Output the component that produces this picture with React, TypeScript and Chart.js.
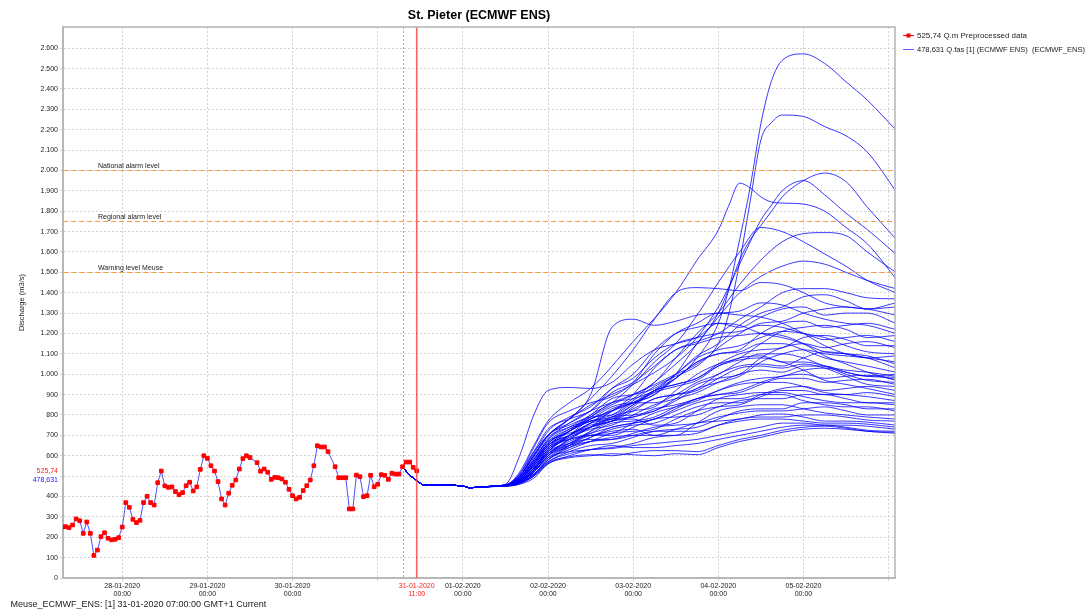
import React, { useEffect, useRef } from 'react';
import { Chart, registerables } from 'chart.js';

Chart.register(...registerables);

// ---------- DATA ----------
const titleText = 'St. Pieter (ECMWF ENS)';
const yAxisTitle = 'Discharge (m3/s)';
const footerText = 'Meuse_ECMWF_ENS: [1] 31-01-2020 07:00:00 GMT+1 Current';
const legendObs = '525,74 Q.m Preprocessed data';
const legendFc = '478,631 Q.fas [1] (ECMWF ENS)  (ECMWF_ENS)';

// hours relative to 28-01-2020 00:00
const xMin = -16.7;
const xMax = 217.8;
const forecastTimeHour = 79; // 31-01-2020 07:00
const currentTimeHour = 83; // 31-01-2020 11:00

const xTickHours = [0, 24, 48, 72, 83, 96, 120, 144, 168, 192, 216];
const xTickDates = ['28-01-2020', '29-01-2020', '30-01-2020', '', '31-01-2020', '01-02-2020', '02-02-2020', '03-02-2020', '04-02-2020', '05-02-2020', ''];
const xTickTimes = ['00:00', '00:00', '00:00', '', '11:00', '00:00', '00:00', '00:00', '00:00', '00:00', ''];

const yTicks = [0, 100, 200, 300, 400, 500, 600, 700, 800, 900, 1000, 1100, 1200, 1300, 1400, 1500, 1600, 1700, 1800, 1900, 2000, 2100, 2200, 2300, 2400, 2500, 2600];
const yHiddenTick = 500;

const thresholdValues = [2000, 1750, 1500];
const thresholdLabels = ['National alarm level', 'Regional alarm level', 'Warning level Meuse'];

const obsCurrentValue = 525.74;
const fcCurrentValue = 478.631;
const obsCurrentLabel = '525,74';
const fcCurrentLabel = '478,631';

// observed, hourly from h=-17 to h=83 (null = missing)
const obsStartHour = -17;
const obsValues: (number | null)[] = [
  250, 252, 247, 260, 290, 281, 219, 275, 219, 111, 137, 203, 222, 195, 187, 190, 198,
  250, 370, 347, 288, 272, 283, 370, 401, 370, 358, 468, 525, 452, 445, 447, 424, 409, 419, 453, 470, 427, 447, 533, 600,
  587, 551, 525, 473, 388, 358, 416, 455, 481, 535, 586, 600, 591, null, 566, 524, 535, 519, 484, 494, 492, 486, 470, 435,
  404, 388, 396, 429, 453, 481, 551, 649, 643, 643, 620, null, 546, 492, 492, 492, 339, 339, 505, 497, 399, 404, 504, 448,
  460, 507, 504, 484, 514, 510, 510, 546, 569, 569, 543, 526,
];

// common start of all ensemble members
const fcBaseHours = [79, 81, 83, 85, 88, 92, 96, 98, 102];
const fcBaseValues = [546, 505, 479, 456, 455, 455, 451, 443, 448];

// regular members grid
const memberHours = [108, 112, 116, 120, 126, 132, 138, 144, 150, 156, 162, 168, 174, 180, 186, 192, 198, 204, 210, 218];
const members: number[][] = [
  [455, 490, 570, 660, 730, 790, 850, 900, 960, 1080, 1200, 1300, 1440, 1560, 1650, 1690, 1695, 1680, 1600, 1500],
  [455, 480, 550, 640, 720, 800, 860, 950, 1060, 1150, 1290, 1450, 1600, 1720, 1700, 1650, 1590, 1530, 1460, 1400],
  [455, 470, 520, 600, 680, 740, 820, 860, 900, 1000, 1150, 1280, 1400, 1480, 1530, 1555, 1540, 1500, 1460, 1420],
  [455, 500, 600, 700, 780, 880, 990, 1120, 1270, 1400, 1425, 1420, 1410, 1450, 1440, 1400, 1350, 1330, 1320, 1290],
  [455, 510, 620, 700, 780, 900, 1230, 1270, 1240, 1260, 1290, 1300, 1310, 1350, 1340, 1300, 1270, 1250, 1240, 1200],
  [460, 600, 800, 920, 935, 930, 960, 1050, 1120, 1150, 1180, 1250, 1240, 1200, 1180, 1150, 1110, 1100, 1090, 1050],
  [452, 470, 540, 620, 700, 780, 820, 900, 1030, 1120, 1160, 1200, 1270, 1330, 1400, 1420, 1420, 1400, 1375, 1370],
  [455, 480, 560, 650, 720, 790, 860, 880, 920, 1000, 1090, 1150, 1240, 1300, 1330, 1380, 1390, 1360, 1320, 1330],
  [458, 500, 600, 700, 760, 820, 930, 1000, 1120, 1200, 1230, 1250, 1230, 1280, 1320, 1330, 1290, 1300, 1300, 1250],
  [455, 470, 530, 610, 680, 740, 770, 840, 920, 980, 1060, 1100, 1120, 1200, 1250, 1260, 1230, 1240, 1250, 1220],
  [450, 465, 510, 580, 650, 720, 790, 820, 840, 920, 1000, 1050, 1080, 1150, 1210, 1230, 1240, 1220, 1180, 1190],
  [455, 490, 580, 680, 740, 800, 880, 900, 930, 1000, 1080, 1120, 1140, 1180, 1210, 1200, 1170, 1180, 1190, 1160],
  [455, 475, 540, 630, 700, 760, 780, 850, 920, 950, 980, 1050, 1100, 1120, 1130, 1180, 1190, 1170, 1140, 1140],
  [452, 470, 520, 600, 660, 720, 770, 790, 820, 880, 950, 980, 1000, 1080, 1130, 1150, 1130, 1150, 1160, 1130],
  [455, 500, 610, 720, 790, 840, 930, 980, 1080, 1150, 1180, 1200, 1210, 1240, 1230, 1200, 1180, 1140, 1110, 1100],
  [455, 480, 560, 650, 700, 750, 770, 820, 880, 900, 930, 1000, 1040, 1050, 1040, 1080, 1110, 1100, 1080, 1090],
  [455, 470, 530, 620, 690, 740, 790, 800, 820, 870, 930, 960, 990, 1060, 1100, 1120, 1100, 1090, 1080, 1060],
  [458, 510, 640, 760, 820, 860, 890, 960, 1100, 1200, 1250, 1300, 1290, 1280, 1250, 1200, 1140, 1100, 1080, 1030],
  [455, 480, 550, 640, 700, 760, 830, 860, 900, 980, 1060, 1100, 1110, 1150, 1150, 1120, 1080, 1060, 1040, 1010],
  [455, 470, 520, 590, 650, 700, 710, 760, 810, 840, 870, 920, 960, 980, 990, 1020, 1030, 1010, 990, 1000],
  [455, 490, 590, 690, 740, 780, 840, 860, 860, 900, 960, 1000, 1060, 1100, 1100, 1080, 1040, 1020, 1010, 990],
  [455, 475, 540, 630, 690, 730, 750, 800, 850, 880, 910, 960, 1000, 1020, 1010, 1040, 1040, 1010, 990, 985],
  [452, 465, 510, 580, 640, 690, 740, 760, 780, 830, 880, 900, 920, 960, 990, 1000, 980, 990, 995, 975],
  [455, 500, 620, 730, 780, 820, 910, 960, 1040, 1120, 1150, 1180, 1190, 1200, 1190, 1150, 1090, 1050, 1010, 970],
  [455, 480, 560, 660, 720, 770, 790, 850, 910, 940, 970, 1040, 1080, 1090, 1060, 1060, 1040, 1000, 970, 960],
  [455, 470, 530, 610, 670, 710, 760, 770, 790, 840, 880, 900, 910, 950, 980, 980, 960, 970, 975, 950],
  [455, 485, 570, 670, 730, 770, 780, 830, 880, 900, 920, 980, 1030, 1040, 1030, 1050, 1030, 990, 950, 940],
  [455, 470, 520, 600, 650, 690, 730, 750, 760, 800, 840, 860, 860, 900, 930, 940, 920, 930, 940, 920],
  [455, 495, 600, 700, 750, 790, 800, 860, 920, 950, 980, 1040, 1070, 1080, 1060, 1020, 970, 950, 930, 900],
  [452, 465, 510, 580, 630, 670, 710, 720, 730, 780, 820, 840, 850, 890, 920, 920, 900, 900, 910, 890],
  [455, 480, 560, 650, 700, 740, 780, 790, 830, 850, 880, 920, 950, 960, 960, 940, 910, 900, 890, 870],
  [455, 470, 530, 610, 660, 700, 700, 740, 780, 790, 800, 840, 870, 880, 880, 900, 900, 880, 860, 860],
  [455, 490, 580, 670, 710, 740, 770, 780, 750, 760, 820, 880, 900, 910, 910, 890, 870, 860, 860, 850],
  [452, 465, 505, 570, 620, 650, 660, 690, 720, 730, 740, 780, 820, 830, 830, 860, 860, 850, 830, 830],
  [455, 475, 540, 630, 680, 710, 740, 760, 780, 820, 860, 880, 880, 900, 900, 870, 850, 840, 840, 820],
  [455, 470, 520, 600, 640, 670, 680, 710, 740, 750, 760, 790, 810, 820, 820, 830, 840, 820, 800, 800],
  [455, 480, 550, 640, 680, 700, 720, 730, 700, 700, 760, 820, 840, 850, 850, 830, 810, 800, 790, 780],
  [452, 465, 500, 560, 600, 630, 640, 660, 690, 700, 710, 750, 780, 790, 790, 800, 800, 790, 775, 770],
  [455, 470, 530, 610, 650, 670, 690, 700, 700, 730, 760, 770, 780, 800, 805, 790, 770, 770, 765, 750],
  [455, 475, 540, 620, 660, 680, 680, 700, 720, 720, 720, 750, 770, 780, 780, 770, 760, 760, 755, 740],
  [452, 465, 505, 570, 610, 630, 635, 650, 660, 670, 680, 700, 720, 740, 760, 760, 750, 750, 745, 730],
  [455, 470, 520, 590, 620, 630, 650, 640, 640, 650, 660, 680, 700, 720, 740, 750, 750, 740, 725, 720],
  [452, 462, 500, 565, 595, 605, 600, 615, 625, 625, 620, 650, 680, 700, 725, 740, 745, 735, 720, 715],
  [450, 460, 490, 560, 590, 600, 610, 605, 600, 610, 605, 640, 670, 690, 715, 730, 735, 730, 720, 710],
  [455, 485, 570, 660, 720, 770, 800, 870, 940, 990, 1040, 1130, 1200, 1250, 1260, 1300, 1320, 1330, 1320, 1350],
];

// high members on a finer grid
const peakHours = [108, 112, 116, 120, 126, 132, 144, 156, 162, 168, 171, 174, 177, 180, 183, 186, 192, 198, 204, 210, 218];
const peakMembers: number[][] = [
  [455, 480, 560, 650, 720, 780, 860, 980, 1080, 1250, 1420, 1660, 1920, 2230, 2440, 2540, 2572, 2525, 2435, 2345, 2200],
  [455, 490, 580, 680, 760, 820, 900, 1000, 1050, 1150, 1300, 1550, 1850, 2150, 2235, 2272, 2265, 2215, 2170, 2090, 1900],
  [455, 520, 650, 770, 860, 930, 1160, 1400, 1560, 1707, 1830, 1938, 1914, 1870, 1845, 1840, 1835, 1800, 1720, 1640, 1470],
  [455, 470, 530, 620, 700, 760, 880, 1050, 1150, 1300, 1420, 1560, 1660, 1730, 1800, 1870, 1950, 1987, 1945, 1820, 1665],
  [455, 500, 600, 700, 780, 850, 950, 1080, 1180, 1330, 1430, 1540, 1650, 1757, 1830, 1900, 1950, 1880, 1790, 1710, 1590],
];

// ---------- STYLE ----------
const FONT = '"Liberation Sans", Arial, sans-serif';
const BLUE = 'rgba(0,0,255,0.78)';
const RED = '#ff0000';
const GRID = '#d2d2d2';
const ORANGE = '#ff9933';

function fmtThousands(v: number): string {
  if (v >= 1000) {
    const th = Math.floor(v / 1000);
    const rest = String(v % 1000).padStart(3, '0');
    return th + '.' + rest;
  }
  return String(v);
}

function buildDatasets() {
  const obsData: { x: number; y: number }[] = [];
  obsValues.forEach((v, i) => {
    if (v !== null) obsData.push({ x: obsStartHour + i, y: v });
  });
  const base = fcBaseHours.map((h, i) => ({ x: h, y: fcBaseValues[i] }));
  const ds: any[] = [];
  ds.push({
    label: legendObs,
    data: obsData,
    borderColor: RED,
    borderWidth: 1,
    pointStyle: 'rect',
    pointRadius: 2.6,
    pointBorderWidth: 1,
    pointBackgroundColor: RED,
    pointBorderColor: RED,
    tension: 0,
    segment: {
      borderColor: (c: any) => (c.p1.parsed.x <= forecastTimeHour ? 'rgba(60,60,255,0.9)' : RED),
    },
  });
  const addMember = (hours: number[], vals: number[]) => {
    ds.push({
      label: 'member',
      data: base.concat(hours.map((h, i) => ({ x: h, y: vals[i] }))),
      borderColor: BLUE,
      borderWidth: 1,
      pointRadius: 0,
      cubicInterpolationMode: 'monotone',
    });
  };
  peakMembers.forEach((m) => addMember(peakHours, m));
  members.forEach((m) => addMember(memberHours, m));
  return ds;
}

const overlayPlugin = {
  id: 'overlay',
  beforeDatasetsDraw(chart: any) {
    const { ctx, chartArea: a, scales } = chart;
    const x = scales.x;
    ctx.save();
    const px = Math.round(x.getPixelForValue(forecastTimeHour)) + 0.5;
    ctx.strokeStyle = '#a8a8a8';
    ctx.lineWidth = 1;
    ctx.setLineDash([2, 2]);
    ctx.beginPath();
    ctx.moveTo(px, a.top);
    ctx.lineTo(px, a.bottom);
    ctx.stroke();
    ctx.restore();
  },
  afterDatasetsDraw(chart: any) {
    const { ctx, chartArea: a, scales } = chart;
    const x = scales.x;
    const y = scales.y;
    ctx.save();
    ctx.beginPath();
    ctx.rect(a.left, a.top, a.right - a.left, a.bottom - a.top);
    ctx.clip();
    thresholdValues.forEach((v, i) => {
      const py = Math.round(y.getPixelForValue(v)) + 0.5;
      ctx.strokeStyle = ORANGE;
      ctx.lineWidth = 1;
      ctx.setLineDash([5, 3]);
      ctx.beginPath();
      ctx.moveTo(a.left, py);
      ctx.lineTo(a.right, py);
      ctx.stroke();
      ctx.setLineDash([]);
      ctx.fillStyle = '#222';
      ctx.font = '7px ' + FONT;
      ctx.textAlign = 'left';
      ctx.textBaseline = 'bottom';
      ctx.fillText(thresholdLabels[i], 98, py - 1);
    });
    const rx = x.getPixelForValue(currentTimeHour);
    ctx.strokeStyle = 'rgba(255,70,70,0.85)';
    ctx.lineWidth = 1.6;
    ctx.setLineDash([]);
    ctx.beginPath();
    ctx.moveTo(rx, a.top);
    ctx.lineTo(rx, a.bottom);
    ctx.stroke();
    ctx.restore();
  },
  afterDraw(chart: any) {
    const { ctx, chartArea: a, scales } = chart;
    const y = scales.y;
    ctx.save();
    // frame top/right
    ctx.strokeStyle = '#b4b4b4';
    ctx.lineWidth = 1.5;
    ctx.beginPath();
    ctx.moveTo(a.left, a.top);
    ctx.lineTo(a.right, a.top);
    ctx.lineTo(a.right, a.bottom);
    ctx.stroke();
    // title
    ctx.fillStyle = '#000';
    ctx.font = 'bold 12.5px ' + FONT;
    ctx.textAlign = 'center';
    ctx.textBaseline = 'middle';
    ctx.fillText(titleText, (a.left + a.right) / 2, 16);
    // legend
    ctx.lineWidth = 1;
    ctx.strokeStyle = RED;
    ctx.beginPath();
    ctx.moveTo(903, 35.5);
    ctx.lineTo(914, 35.5);
    ctx.stroke();
    ctx.fillStyle = RED;
    ctx.fillRect(906.5, 33.5, 4, 4);
    ctx.strokeStyle = 'rgba(90,90,255,1)';
    ctx.beginPath();
    ctx.moveTo(903, 49.5);
    ctx.lineTo(914, 49.5);
    ctx.stroke();
    ctx.fillStyle = '#222';
    ctx.font = '8px ' + FONT;
    ctx.textAlign = 'left';
    ctx.textBaseline = 'middle';
    ctx.fillText(legendObs, 917, 36, 110);
    ctx.fillText(legendFc, 917, 49.5, 168);
    // footer
    ctx.font = '9px ' + FONT;
    ctx.fillStyle = '#222';
    ctx.fillText(footerText, 10.5, 604.5);
    // current value labels
    ctx.font = '7px ' + FONT;
    ctx.textAlign = 'right';
    ctx.fillStyle = '#ff2020';
    ctx.fillText(obsCurrentLabel, 58, y.getPixelForValue(obsCurrentValue));
    ctx.fillStyle = '#2020ff';
    ctx.fillText(fcCurrentLabel, 58, y.getPixelForValue(fcCurrentValue));
    // y axis title
    ctx.translate(22, (a.top + a.bottom) / 2);
    ctx.rotate(-Math.PI / 2);
    ctx.textAlign = 'center';
    ctx.fillStyle = '#222';
    ctx.font = '7.5px ' + FONT;
    ctx.fillText(yAxisTitle, 0, 0);
    ctx.restore();
  },
};

export default function App() {
  const ref = useRef<HTMLCanvasElement | null>(null);
  useEffect(() => {
    if (!ref.current) return;
    const chart = new Chart(ref.current, {
      type: 'line',
      data: { datasets: buildDatasets() },
      options: {
        animation: false,
        responsive: false,
        devicePixelRatio: 1,
        events: [],
        layout: { padding: { left: 0, right: 194, top: 27, bottom: 0 } },
        plugins: { legend: { display: false }, title: { display: false }, tooltip: { enabled: false } },
        scales: {
          x: {
            type: 'linear',
            min: xMin,
            max: xMax,
            afterFit: (s: any) => {
              s.height = 36;
            },
            afterBuildTicks: (s: any) => {
              s.ticks = xTickHours.map((h) => ({ value: h }));
            },
            grid: {
              color: (c: any) => (c.tick && c.tick.value === currentTimeHour ? 'rgba(0,0,0,0)' : GRID),
              tickLength: 3,
              lineWidth: 1,
            },
            border: { display: true, color: '#b8b8b8', width: 2, dash: [2, 2] },
            ticks: {
              autoSkip: false,
              maxRotation: 0,
              padding: 1,
              font: { family: FONT, size: 7, lineHeight: 1.15 },
              color: (c: any) => (c.tick && c.tick.value === currentTimeHour ? '#ff2020' : '#222'),
              callback: (v: any) => {
                const i = xTickHours.indexOf(Number(v));
                if (i < 0 || !xTickDates[i]) return '';
                return [xTickDates[i], xTickTimes[i]];
              },
            },
          },
          y: {
            type: 'linear',
            min: 0,
            max: 2704,
            afterFit: (s: any) => {
              s.width = 63;
            },
            afterBuildTicks: (s: any) => {
              s.ticks = yTicks.map((v) => ({ value: v }));
            },
            grid: { color: GRID, tickLength: 3, lineWidth: 1 },
            border: { display: true, color: '#b8b8b8', width: 2, dash: [2, 2] },
            ticks: {
              padding: 2,
              font: { family: FONT, size: 7 },
              color: '#222',
              callback: (v: any) => (Number(v) === yHiddenTick ? '' : fmtThousands(Number(v))),
            },
          },
        },
      },
      plugins: [overlayPlugin],
    } as any);
    return () => chart.destroy();
  }, []);
  return (
    <div style={{ position: 'absolute', left: 0, top: 0, width: 1089, height: 614, background: '#fff' }}>
      <canvas ref={ref} width={1089} height={614} style={{ display: 'block' }} />
    </div>
  );
}
